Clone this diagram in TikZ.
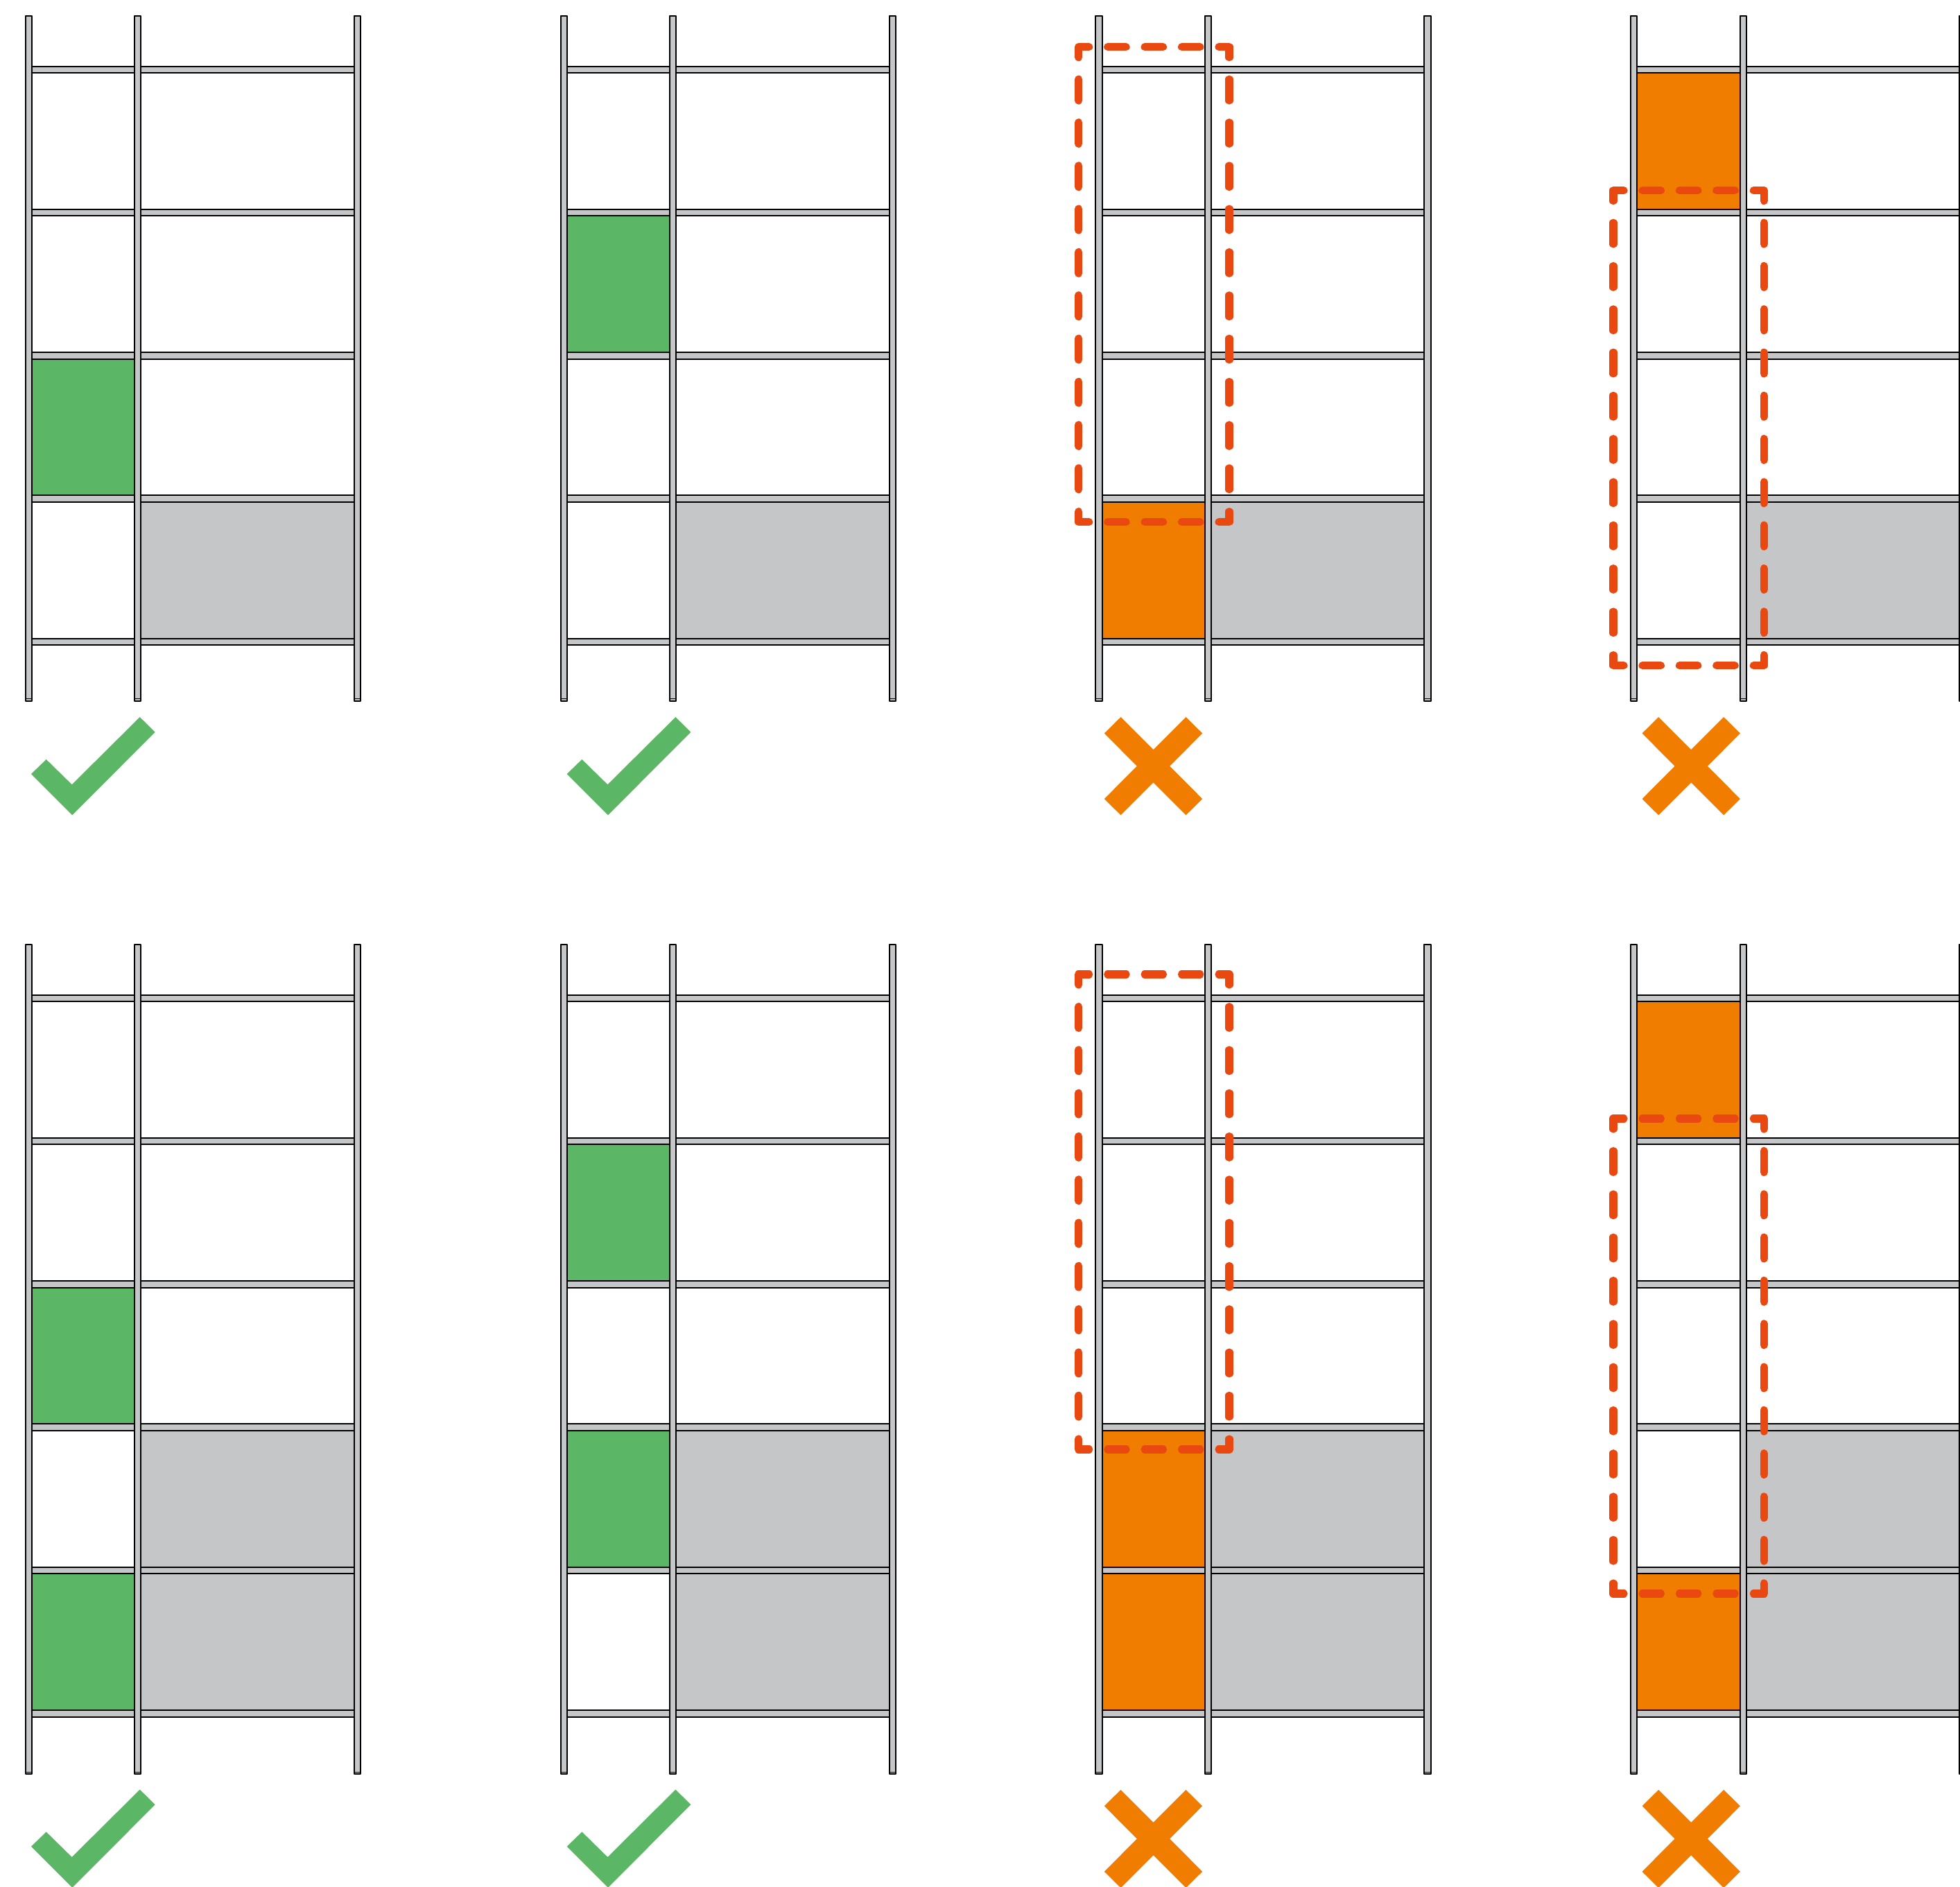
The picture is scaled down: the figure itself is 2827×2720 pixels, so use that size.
\documentclass[tikz,border=0pt]{standalone}
\definecolor{rackgrey}{HTML}{C4C6C8}
\definecolor{okgreen}{HTML}{5BB665}
\definecolor{badorange}{HTML}{F07C00}
\definecolor{framered}{HTML}{E94911}
\tikzset{
  rackbar/.style={draw=black,fill=rackgrey,line width=2pt,line join=round},
  footline/.style={draw=black,line width=1pt},
  redarm/.style={draw=framered,line width=11.2pt,line cap=round,line join=round},
  reddashh/.style={redarm,dash pattern=on 26.4pt off 27pt},
  reddashv/.style={redarm,dash pattern=on 30.7pt off 31.6pt},
}
% rack: x offset, y offset, number of shelves, y of upright bottom
\newcommand{\rackshelves}[3]{%
  \foreach \k in {1,...,#3}{%
    \pgfmathsetmacro{\sy}{#2+94.5+206.3*(\k-1)}%
    \draw[rackbar] ({#1+5},{\sy+1}) rectangle ({#1+479},{\sy+10.6});
  }%
}
\newcommand{\rackupright}[3]{%
  \draw[rackbar] ({#1+1},{#2+22.6}) rectangle ({#1+10.2},{#3-1});
  \draw[footline] ({#1+1},{#3-4}) -- ({#1+10.2},{#3-4});
}
\newcommand{\rackuprights}[3]{%
  \rackupright{#1}{#2}{#3}
  \rackupright{#1+157.5}{#2}{#3}
  \rackupright{#1+474}{#2}{#3}
}
\newcommand{\bayL}[4]{%
  \pgfmathsetmacro{\sy}{#2+94.5+206.3*#3}%
  \fill[#4] ({#1+10},{\sy+10.5}) rectangle ({#1+158.6},{\sy+207.4});
}
\newcommand{\bayR}[3]{%
  \pgfmathsetmacro{\sy}{#2+94.5+206.3*#3}%
  \fill[rackgrey] ({#1+168},{\sy+10.5}) rectangle ({#1+475},{\sy+207.4});
}
\newcommand{\redframe}[2]{%
  \pgfmathsetmacro{\xa}{#1}\pgfmathsetmacro{\xb}{#1+217.3}%
  \pgfmathsetmacro{\ya}{#2}\pgfmathsetmacro{\yb}{#2+685}%
  \draw[redarm] (\xa,{\ya+15}) -- (\xa,\ya) -- ({\xa+15},\ya);
  \draw[redarm] ({\xb-15},\ya) -- (\xb,\ya) -- (\xb,{\ya+15});
  \draw[redarm] (\xa,{\yb-15}) -- (\xa,\yb) -- ({\xa+15},\yb);
  \draw[redarm] ({\xb-15},\yb) -- (\xb,\yb) -- (\xb,{\yb-15});
  \draw[reddashh] ({\xa+42},\ya) -- ({\xb-42},\ya);
  \draw[reddashh] ({\xa+42},\yb) -- ({\xb-42},\yb);
  \draw[reddashv] (\xa,{\ya+46.6}) -- (\xa,{\yb-46.6});
  \draw[reddashv] (\xb,{\ya+46.6}) -- (\xb,{\yb-46.6});
}
\newcommand{\tickmark}[2]{%
  \fill[okgreen,shift={(#1,#2)}] (0,0) -- (21.7,-21) -- (58.7,15.3) -- (156.7,-82) -- (178.7,-60.3) -- (59.3,59.3) -- cycle;
}
\newcommand{\crossmark}[2]{%
  \fill[badorange,shift={(#1,#2)}] (-70.7,-47.3) -- (-47,-70.7) -- (0,-23.7) -- (47,-70.7) -- (70.7,-47.3) -- (23.7,0) -- (70.7,47.3) -- (47,70.7) -- (0,23.7) -- (-47,70.7) -- (-70.7,47.3) -- (-23.7,0) -- cycle;
}
\begin{document}
\begin{tikzpicture}[x=1pt,y=-1pt]
\useasboundingbox (0,0) rectangle (2827,2720);
\clip (0,0) rectangle (2827,2720);
\fill[white] (0,0) rectangle (2827,2720);
\def\pa{35.7}\def\pb{807.6}\def\pc{1579.3}\def\pd{2351}
\def\rowb{1339}
% bays, top row
\bayL{\pa}{0}{2}{okgreen}
\bayL{\pb}{0}{1}{okgreen}
\bayL{\pc}{0}{3}{badorange}
\bayL{\pd}{0}{0}{badorange}
\foreach \p in {\pa,\pb,\pc,\pd}{\bayR{\p}{0}{3}}
% bays, bottom row
\bayL{\pa}{\rowb}{2}{okgreen}
\bayL{\pa}{\rowb}{4}{okgreen}
\bayL{\pb}{\rowb}{1}{okgreen}
\bayL{\pb}{\rowb}{3}{okgreen}
\bayL{\pc}{\rowb}{3}{badorange}
\bayL{\pc}{\rowb}{4}{badorange}
\bayL{\pd}{\rowb}{0}{badorange}
\bayL{\pd}{\rowb}{4}{badorange}
\foreach \p in {\pa,\pb,\pc,\pd}{\bayR{\p}{\rowb}{3}\bayR{\p}{\rowb}{4}}
% racks
\foreach \p in {\pa,\pb,\pc,\pd}{%
  \rackshelves{\p}{0}{5}
  \rackshelves{\p}{\rowb}{6}
  \rackuprights{\p}{0}{1011.7}
  \rackuprights{\p}{\rowb}{2559}
}
% dashed frames
\redframe{1555.7}{67.7}
\redframe{2327}{274.6}
\redframe{1555.7}{1405}
\redframe{2327}{1613}
% marks
\tickmark{45}{1116}
\tickmark{817.7}{1116}
\tickmark{45}{2662.5}
\tickmark{817.7}{2662.5}
\crossmark{1663.5}{1104.7}
\crossmark{2439.2}{1104.7}
\crossmark{1663.5}{2651.5}
\crossmark{2439.2}{2651.5}
\end{tikzpicture}
\end{document}
